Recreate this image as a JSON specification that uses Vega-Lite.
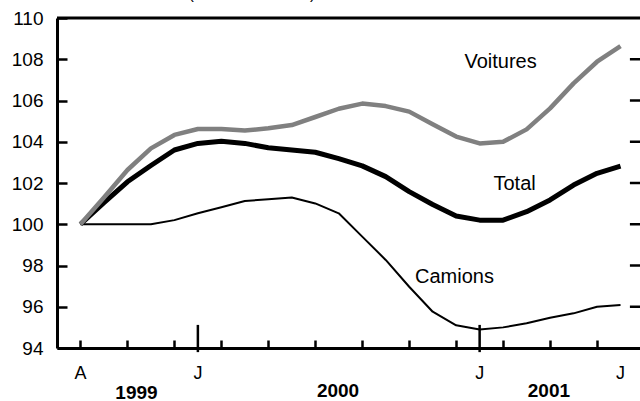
{
  "$schema": "https://vega.github.io/schema/vega-lite/v6.json",
  "autosize": {"type": "none"},
  "padding": {"left": 57, "top": 18, "right": 0, "bottom": 53},
  "width": 583,
  "height": 330,
  "background": "white",
  "config": {
    "view": {"stroke": null},
    "font": "Liberation Sans",
    "axis": {"labelOverlap": false, "labelFlush": false, "labelBound": false, "grid": false, "title": null}
  },
  "datasets": {
    "series": [
      {"m": 0, "s": "Voitures", "v": 100.0}, {"m": 1, "s": "Voitures", "v": 101.3}, {"m": 2, "s": "Voitures", "v": 102.63}, {"m": 3, "s": "Voitures", "v": 103.68},
      {"m": 4, "s": "Voitures", "v": 104.33}, {"m": 5, "s": "Voitures", "v": 104.62}, {"m": 6, "s": "Voitures", "v": 104.62}, {"m": 7, "s": "Voitures", "v": 104.54},
      {"m": 8, "s": "Voitures", "v": 104.65}, {"m": 9, "s": "Voitures", "v": 104.81}, {"m": 10, "s": "Voitures", "v": 105.2}, {"m": 11, "s": "Voitures", "v": 105.6},
      {"m": 12, "s": "Voitures", "v": 105.85}, {"m": 13, "s": "Voitures", "v": 105.73}, {"m": 14, "s": "Voitures", "v": 105.46}, {"m": 15, "s": "Voitures", "v": 104.85},
      {"m": 16, "s": "Voitures", "v": 104.25}, {"m": 17, "s": "Voitures", "v": 103.92}, {"m": 18, "s": "Voitures", "v": 104.0}, {"m": 19, "s": "Voitures", "v": 104.6},
      {"m": 20, "s": "Voitures", "v": 105.62}, {"m": 21, "s": "Voitures", "v": 106.83}, {"m": 22, "s": "Voitures", "v": 107.88}, {"m": 23, "s": "Voitures", "v": 108.64},
      {"m": 0, "s": "Total", "v": 100.0}, {"m": 1, "s": "Total", "v": 101.05}, {"m": 2, "s": "Total", "v": 102.06}, {"m": 3, "s": "Total", "v": 102.85},
      {"m": 4, "s": "Total", "v": 103.6}, {"m": 5, "s": "Total", "v": 103.92}, {"m": 6, "s": "Total", "v": 104.02}, {"m": 7, "s": "Total", "v": 103.92},
      {"m": 8, "s": "Total", "v": 103.71}, {"m": 9, "s": "Total", "v": 103.6}, {"m": 10, "s": "Total", "v": 103.49}, {"m": 11, "s": "Total", "v": 103.18},
      {"m": 12, "s": "Total", "v": 102.83}, {"m": 13, "s": "Total", "v": 102.31}, {"m": 14, "s": "Total", "v": 101.58}, {"m": 15, "s": "Total", "v": 100.96},
      {"m": 16, "s": "Total", "v": 100.4}, {"m": 17, "s": "Total", "v": 100.2}, {"m": 18, "s": "Total", "v": 100.2}, {"m": 19, "s": "Total", "v": 100.61},
      {"m": 20, "s": "Total", "v": 101.18}, {"m": 21, "s": "Total", "v": 101.9}, {"m": 22, "s": "Total", "v": 102.47}, {"m": 23, "s": "Total", "v": 102.82},
      {"m": 0, "s": "Camions", "v": 100.0}, {"m": 1, "s": "Camions", "v": 100.0}, {"m": 2, "s": "Camions", "v": 100.0}, {"m": 3, "s": "Camions", "v": 100.0},
      {"m": 4, "s": "Camions", "v": 100.2}, {"m": 5, "s": "Camions", "v": 100.53}, {"m": 6, "s": "Camions", "v": 100.82}, {"m": 7, "s": "Camions", "v": 101.13},
      {"m": 8, "s": "Camions", "v": 101.21}, {"m": 9, "s": "Camions", "v": 101.3}, {"m": 10, "s": "Camions", "v": 101.01}, {"m": 11, "s": "Camions", "v": 100.53},
      {"m": 12, "s": "Camions", "v": 99.4}, {"m": 13, "s": "Camions", "v": 98.27}, {"m": 14, "s": "Camions", "v": 96.97}, {"m": 15, "s": "Camions", "v": 95.76},
      {"m": 16, "s": "Camions", "v": 95.1}, {"m": 17, "s": "Camions", "v": 94.9}, {"m": 18, "s": "Camions", "v": 95.0}, {"m": 19, "s": "Camions", "v": 95.2},
      {"m": 20, "s": "Camions", "v": 95.47}, {"m": 21, "s": "Camions", "v": 95.68}, {"m": 22, "s": "Camions", "v": 96.0}, {"m": 23, "s": "Camions", "v": 96.08}
    ],
    "labels": [
      {"label": "Voitures", "m": 17.89, "v": 107.87},
      {"label": "Total", "m": 18.49, "v": 101.94},
      {"label": "Camions", "m": 15.93, "v": 97.46}
    ],
    "months": [
      {"label": "A", "m": 0, "v": 92.75},
      {"label": "J", "m": 5, "v": 92.75},
      {"label": "J", "m": 17, "v": 92.75},
      {"label": "J", "m": 23, "v": 92.75}
    ],
    "years": [
      {"label": "1999", "m": 2.385, "v": 91.8},
      {"label": "2000", "m": 10.97, "v": 91.9},
      {"label": "2001", "m": 19.95, "v": 91.9}
    ],
    "subtitle": [{"label": "(août 1999 = 100)", "m": 4.6, "v": 110.92}],
    "yearticks": [{"m": 5}, {"m": 17}],
    "rightticks": [{"v": 96}, {"v": 98}, {"v": 100}, {"v": 102}, {"v": 104}, {"v": 106}, {"v": 108}]
  },
  "layer": [
    {
      "data": {"name": "series"},
      "transform": [{"filter": "datum.s === 'Camions'"}],
      "mark": {"type": "line", "color": "black", "strokeWidth": 2, "strokeJoin": "round"},
      "encoding": {
        "x": {"field": "m", "type": "quantitative", "scale": {"domain": [-1, 23.83], "nice": false, "zero": false},
          "axis": {"values": [0,1,2,3,4,5,6,7,8,9,10,11,12,13,14,15,16,17,18,19,20,21,22,23],
            "labels": false, "tickSize": -8, "tickWidth": 2.5, "tickColor": "black", "domainColor": "black", "domainWidth": 3}},
        "y": {"field": "v", "type": "quantitative", "scale": {"domain": [94, 110], "nice": false, "zero": false},
          "axis": {"values": [94,96,98,100,102,104,106,108,110], "tickSize": -10, "tickWidth": 2.5, "tickColor": "black",
            "domainColor": "black", "domainWidth": 3, "labelFontSize": 19, "labelColor": "black", "labelPadding": 24, "labelFont": "Liberation Sans"}}
      }
    },
    {
      "data": {"name": "series"},
      "transform": [{"filter": "datum.s === 'Total'"}],
      "mark": {"type": "line", "color": "black", "strokeWidth": 5, "strokeJoin": "round"},
      "encoding": {"x": {"field": "m", "type": "quantitative"}, "y": {"field": "v", "type": "quantitative"}}
    },
    {
      "data": {"name": "series"},
      "transform": [{"filter": "datum.s === 'Voitures'"}],
      "mark": {"type": "line", "color": "#808080", "strokeWidth": 4.5, "strokeJoin": "round"},
      "encoding": {"x": {"field": "m", "type": "quantitative"}, "y": {"field": "v", "type": "quantitative"}}
    },
    {
      "data": {"values": [{"v": 110}]},
      "mark": {"type": "rule", "color": "black", "strokeWidth": 3},
      "encoding": {"y": {"field": "v", "type": "quantitative"}}
    },
    {
      "data": {"name": "yearticks"},
      "transform": [{"calculate": "93.8", "as": "y1"}, {"calculate": "95.12", "as": "y2"}],
      "mark": {"type": "rule", "color": "black", "strokeWidth": 2.5},
      "encoding": {"x": {"field": "m", "type": "quantitative"}, "y": {"field": "y1", "type": "quantitative"}, "y2": {"field": "y2"}}
    },
    {
      "data": {"name": "rightticks"},
      "transform": [{"calculate": "23.4", "as": "x1"}, {"calculate": "23.83", "as": "x2"}],
      "mark": {"type": "rule", "color": "black", "strokeWidth": 2.5},
      "encoding": {"y": {"field": "v", "type": "quantitative"}, "x": {"field": "x1", "type": "quantitative"}, "x2": {"field": "x2"}}
    },
    {
      "data": {"name": "labels"},
      "mark": {"type": "text", "fontSize": 20, "color": "black", "font": "Liberation Sans", "align": "center", "baseline": "middle"},
      "encoding": {"x": {"field": "m", "type": "quantitative"}, "y": {"field": "v", "type": "quantitative"}, "text": {"field": "label"}}
    },
    {
      "data": {"name": "months"},
      "mark": {"type": "text", "fontSize": 18, "color": "black", "font": "Liberation Sans", "align": "center", "baseline": "middle"},
      "encoding": {"x": {"field": "m", "type": "quantitative"}, "y": {"field": "v", "type": "quantitative"}, "text": {"field": "label"}}
    },
    {
      "data": {"name": "years"},
      "mark": {"type": "text", "fontSize": 19, "fontWeight": "bold", "color": "black", "font": "Liberation Sans", "align": "center", "baseline": "middle"},
      "encoding": {"x": {"field": "m", "type": "quantitative"}, "y": {"field": "v", "type": "quantitative"}, "text": {"field": "label"}}
    },
    {
      "data": {"name": "subtitle"},
      "mark": {"type": "text", "fontSize": 16, "color": "black", "font": "Liberation Sans", "align": "left", "baseline": "alphabetic"},
      "encoding": {"x": {"field": "m", "type": "quantitative"}, "y": {"field": "v", "type": "quantitative"}, "text": {"field": "label"}}
    }
  ]
}
